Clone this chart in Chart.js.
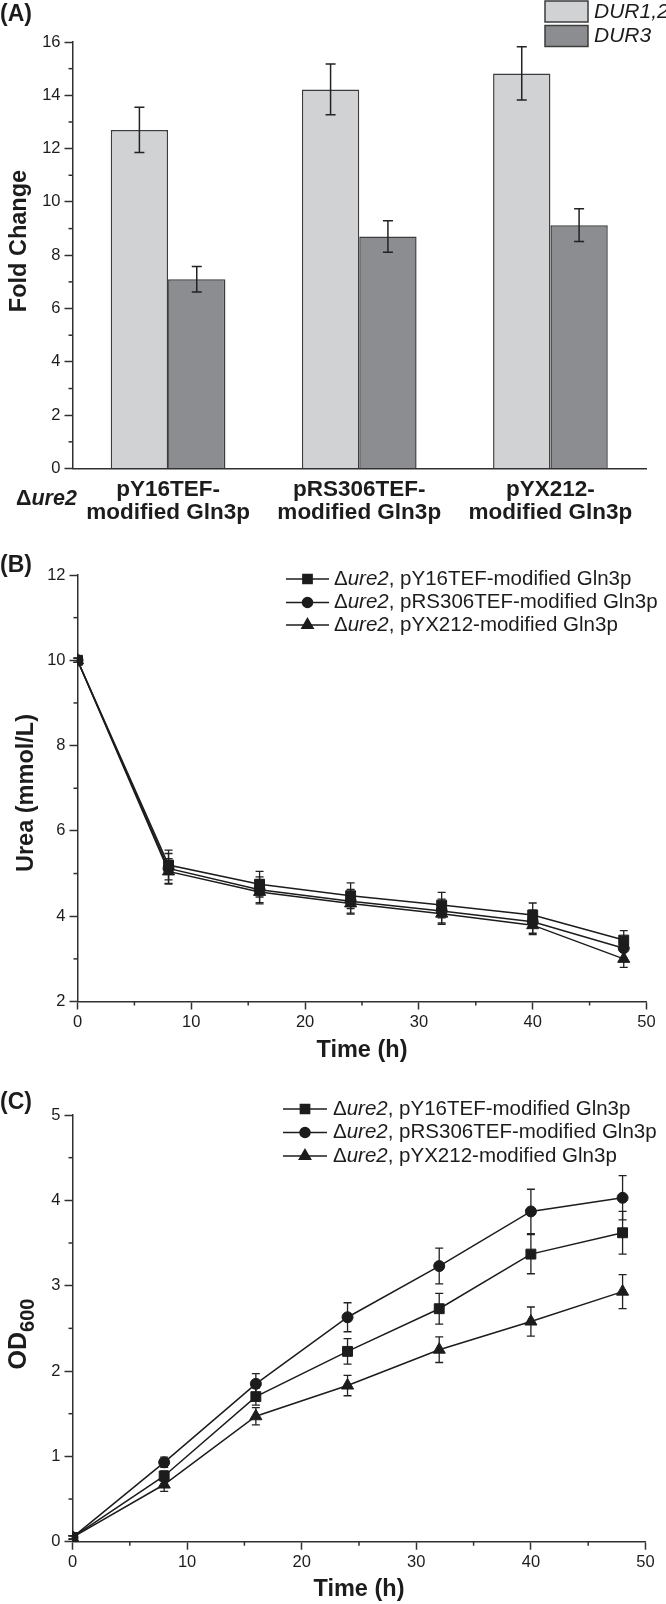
<!DOCTYPE html>
<html><head><meta charset="utf-8">
<script src="https://cdn.jsdelivr.net/npm/chart.js@4.4.1/dist/chart.umd.min.js"></script>
<style>
html,body{margin:0;padding:0;background:#fff;}
#wrap{position:relative;width:666px;height:1604px;background:#fff;overflow:hidden;}
canvas{position:absolute;left:0;}
</style></head><body>
<div id="wrap">
<canvas id="cA" width="666" height="535" style="top:0px;width:666px;height:535px"></canvas>
<canvas id="cB" width="666" height="525" style="top:545px;width:666px;height:525px"></canvas>
<canvas id="cC" width="666" height="524" style="top:1080px;width:666px;height:524px"></canvas>
</div>
<script>
// ---------- DATA ----------
// Panel A
const categories = [['pY16TEF-','modified Gln3p'],['pRS306TEF-','modified Gln3p'],['pYX212-','modified Gln3p']];
const barSeriesNames = ['DUR1,2','DUR3'];
const dur12 = [12.7, 14.22, 14.82];
const dur12Err = [0.85, 0.95, 1.0];
const dur3 = [7.1, 8.7, 9.13];
const dur3Err = [0.48, 0.59, 0.61];
const foldTicks = [0, 2, 4, 6, 8, 10, 12, 14, 16];

// Panels B and C
const timesH = [0, 8, 16, 24, 32, 40, 48];
const strainNames = ['pY16TEF-modified Gln3p','pRS306TEF-modified Gln3p','pYX212-modified Gln3p'];
const ureaY16 = [10, 5.2, 4.75, 4.48, 4.26, 4.03, 3.44];
const ureaY16Err = [0.05, 0.35, 0.3, 0.3, 0.3, 0.28, 0.22];
const ureaRS = [10, 5.12, 4.62, 4.35, 4.12, 3.87, 3.25];
const ureaRSErr = [0.05, 0.35, 0.3, 0.28, 0.28, 0.27, 0.25];
const ureaYX = [10, 5.05, 4.57, 4.3, 4.06, 3.79, 3.0];
const ureaYXErr = [0.05, 0.3, 0.28, 0.25, 0.25, 0.22, 0.2];
const ureaTicks = [2, 4, 6, 8, 10, 12];

const odY16 = [0.05, 0.77, 1.70, 2.23, 2.73, 3.37, 3.62];
const odY16Err = [0.02, 0.06, 0.1, 0.15, 0.18, 0.23, 0.25];
const odRS = [0.05, 0.93, 1.85, 2.63, 3.23, 3.87, 4.03];
const odRSErr = [0.02, 0.06, 0.12, 0.17, 0.21, 0.26, 0.26];
const odYX = [0.05, 0.67, 1.47, 1.83, 2.25, 2.58, 2.93];
const odYXErr = [0.02, 0.08, 0.1, 0.12, 0.15, 0.17, 0.2];
const odTicks = [0, 1, 2, 3, 4, 5];
const timeTicks = [0, 10, 20, 30, 40, 50];

// ---------- STYLE ----------
const FONT = "'Liberation Sans', Arial, Helvetica, sans-serif";
const INK = '#1c1c1c';
const AX = '#303030';
Chart.defaults.font.family = FONT;
Chart.defaults.color = INK;

function segs(ctx, x, y, parts, size) {
  parts.forEach(p => {
    ctx.font = (p.i ? 'italic ' : '') + (p.b ? 'bold ' : '') + size + 'px ' + FONT;
    ctx.fillText(p.t, x, y);
    x += ctx.measureText(p.t).width;
  });
  return x;
}

const errorBars = {
  id: 'errorBars',
  beforeDatasetsDraw(chart, a, o) { if (!o.front) drawErr(chart, o); },
  afterDatasetsDraw(chart, a, o) { if (o.front) drawErr(chart, o); }
};
function drawErr(chart, o) {
  const ctx = chart.ctx, ys = chart.scales.y;
  chart.data.datasets.forEach((ds, di) => {
    if (!ds.errors) return;
    const meta = chart.getDatasetMeta(di);
    meta.data.forEach((el, i) => {
      const d = ds.data[i];
      const v = (typeof d === 'object') ? d.y : d;
      const e = ds.errors[i];
      const yt = ys.getPixelForValue(v + e), yb = ys.getPixelForValue(v - e);
      ctx.save();
      ctx.strokeStyle = o.color; ctx.lineWidth = o.width;
      ctx.beginPath();
      ctx.moveTo(el.x, yt); ctx.lineTo(el.x, yb);
      ctx.moveTo(el.x - o.cap, yt); ctx.lineTo(el.x + o.cap, yt);
      ctx.moveTo(el.x - o.cap, yb); ctx.lineTo(el.x + o.cap, yb);
      ctx.stroke();
      ctx.restore();
    });
  });
}

const minorTicks = {
  id: 'minorTicks',
  afterDraw(chart, a, o) {
    const ctx = chart.ctx, ca = chart.chartArea;
    ctx.save(); ctx.strokeStyle = AX; ctx.lineWidth = 1.5;
    if (o.x) {
      const s = chart.scales.x;
      for (let v = s.min + o.x / 2; v < s.max; v += o.x) {
        const px = s.getPixelForValue(v);
        ctx.beginPath(); ctx.moveTo(px, ca.bottom); ctx.lineTo(px, ca.bottom + o.len); ctx.stroke();
      }
    }
    if (o.y) {
      const s = chart.scales.y;
      for (let v = s.min + o.y / 2; v < s.max; v += o.y) {
        const py = s.getPixelForValue(v);
        ctx.beginPath(); ctx.moveTo(ca.left, py); ctx.lineTo(ca.left - o.len, py); ctx.stroke();
      }
    }
    ctx.restore();
  }
};

const annot = {
  id: 'annot',
  afterDraw(chart, a, o) { if (o.draw) o.draw(chart, chart.ctx); }
};

function yTitle(ctx, text, x, y, size) {
  ctx.save();
  ctx.translate(x, y); ctx.rotate(-Math.PI / 2);
  ctx.fillStyle = INK; ctx.textAlign = 'center'; ctx.textBaseline = 'middle';
  ctx.font = 'bold ' + size + 'px ' + FONT;
  ctx.fillText(text, 0, 0);
  ctx.restore();
}
function panelLetter(ctx, t, y) {
  ctx.save(); ctx.fillStyle = INK; ctx.font = 'bold 23px ' + FONT;
  ctx.textAlign = 'left'; ctx.textBaseline = 'middle';
  ctx.fillText(t, 0, y); ctx.restore();
}

const markerStyles = ['rect', 'circle', 'triangle'];
const markerRadius = [7, 5.5, 7];

function lineLegend(ctx, rows, x1, x2, tx) {
  ctx.save();
  strainNames.forEach((name, i) => {
    const y = rows[i];
    ctx.strokeStyle = INK; ctx.lineWidth = 1.5;
    ctx.beginPath(); ctx.moveTo(x1, y); ctx.lineTo(x2, y); ctx.stroke();
    ctx.fillStyle = INK;
    Chart.helpers.drawPoint(ctx, {pointStyle: markerStyles[i], radius: markerRadius[i] - 0.5, rotation: 0, borderWidth: 1}, (x1 + x2) / 2, y);
    ctx.fillStyle = INK; ctx.textAlign = 'left'; ctx.textBaseline = 'middle';
    segs(ctx, tx, y, [{t: '\u0394'}, {t: 'ure2', i: true}, {t: ', ' + name}], 20.5);
  });
  ctx.restore();
}

function lineDatasets(series, errs) {
  return series.map((vals, i) => ({
    label: strainNames[i],
    data: timesH.map((t, k) => ({x: t, y: vals[k]})),
    errors: errs[i],
    borderColor: INK, backgroundColor: INK, borderWidth: 1.5,
    pointStyle: markerStyles[i], pointRadius: markerRadius[i],
    pointBackgroundColor: INK, pointBorderColor: INK, pointBorderWidth: 1,
    tension: 0, fill: false
  }));
}

function lineScales(yMin, yMax, yTicks, leftW, xH) {
  return {
    x: {
      type: 'linear', min: 0, max: 50,
      afterBuildTicks(s) { s.ticks = timeTicks.map(v => ({value: v})); },
      ticks: {font: {size: 16.5}, color: INK, padding: 3},
      grid: {drawOnChartArea: false, drawTicks: true, tickLength: 8, color: AX, tickColor: AX, tickWidth: 1.5},
      border: {color: AX, width: 1.5},
      afterFit(s) { s.height = xH; }
    },
    y: {
      type: 'linear', min: yMin, max: yMax,
      afterBuildTicks(s) { s.ticks = yTicks.map(v => ({value: v})); },
      ticks: {font: {size: 16.5}, color: INK, padding: 4},
      grid: {drawOnChartArea: false, drawTicks: true, tickLength: 8, color: AX, tickColor: AX, tickWidth: 1.5},
      border: {color: AX, width: 1.5},
      afterFit(s) { s.width = leftW; }
    }
  };
}

// ---------- PANEL A ----------
new Chart(document.getElementById('cA'), {
  type: 'bar',
  data: {
    labels: categories,
    datasets: [
      {label: barSeriesNames[0], data: dur12, errors: dur12Err, backgroundColor: '#d1d2d4', borderColor: '#3c3c3c', borderWidth: 1.5, categoryPercentage: 0.6, barPercentage: 1.0},
      {label: barSeriesNames[1], data: dur3, errors: dur3Err, backgroundColor: '#8c8d90', borderColor: '#3c3c3c', borderWidth: 1.5, categoryPercentage: 0.6, barPercentage: 1.0}
    ]
  },
  options: {
    responsive: false, animation: false, devicePixelRatio: 1,
    layout: {padding: {left: 0, right: 20, top: 42, bottom: 0}},
    plugins: {
      legend: {display: false}, tooltip: {enabled: false},
      errorBars: {front: true, cap: 5, width: 1.5, color: '#222'},
      minorTicks: {y: 2, len: 4},
      annot: {draw(chart, ctx) {
        panelLetter(ctx, '(A)', 15);
        yTitle(ctx, 'Fold Change', 19.5, 241, 23.5);
        ctx.save();
        ctx.fillStyle = INK; ctx.textAlign = 'left'; ctx.textBaseline = 'middle';
        segs(ctx, 16, 499, [{t: '\u0394', b: true}, {t: 'ure2', b: true, i: true}], 21.5);
        // legend boxes
        const cols = ['#d1d2d4', '#8c8d90'];
        barSeriesNames.forEach((n, i) => {
          const y = 1 + i * 24.5;
          ctx.fillStyle = cols[i]; ctx.fillRect(545, y, 43, 21);
          ctx.strokeStyle = '#3c3c3c'; ctx.lineWidth = 1.5; ctx.strokeRect(545, y, 43, 21);
          ctx.fillStyle = INK;
          segs(ctx, 594, y + 11, [{t: n, i: true}], 21);
        });
        ctx.restore();
      }}
    },
    scales: {
      x: {
        type: 'category',
        grid: {display: false, drawTicks: false},
        border: {display: true, color: AX, width: 1.5},
        ticks: {font: {size: 22.5, weight: 'bold', lineHeight: 1.02}, color: INK, padding: 10, maxRotation: 0, autoSkip: false},
        afterFit(s) { s.height = 66.5; }
      },
      y: {
        min: 0, max: 16,
        afterBuildTicks(s) { s.ticks = foldTicks.map(v => ({value: v})); },
        ticks: {font: {size: 16.5}, color: INK, padding: 4},
        grid: {drawOnChartArea: false, drawTicks: true, tickLength: 8, color: AX, tickColor: AX, tickWidth: 1.5},
        border: {color: AX, width: 1.5},
        afterFit(s) { s.width = 72.5; }
      }
    }
  },
  plugins: [errorBars, minorTicks, annot]
});

// ---------- PANEL B ----------
new Chart(document.getElementById('cB'), {
  type: 'line',
  data: {datasets: lineDatasets([ureaY16, ureaRS, ureaYX], [ureaY16Err, ureaRSErr, ureaYXErr])},
  options: {
    responsive: false, animation: false, devicePixelRatio: 1,
    layout: {padding: {left: 0, right: 19.5, top: 30, bottom: 0}},
    plugins: {
      legend: {display: false}, tooltip: {enabled: false},
      errorBars: {front: false, cap: 4, width: 1.3, color: '#222'},
      minorTicks: {x: 10, y: 2, len: 4},
      annot: {draw(chart, ctx) {
        panelLetter(ctx, '(B)', 21);
        const ca = chart.chartArea;
        yTitle(ctx, 'Urea (mmol/L)', 27, 248, 23.5);
        ctx.save(); ctx.fillStyle = INK; ctx.textAlign = 'center'; ctx.textBaseline = 'middle';
        ctx.font = 'bold 23.5px ' + FONT;
        ctx.fillText('Time (h)', (ca.left + ca.right) / 2, 506);
        ctx.restore();
        lineLegend(ctx, [34, 57.5, 80], 286, 329, 334);
      }}
    },
    scales: lineScales(2, 12, ureaTicks, 77.5, 68.5)
  },
  plugins: [errorBars, minorTicks, annot]
});

// ---------- PANEL C ----------
new Chart(document.getElementById('cC'), {
  type: 'line',
  data: {datasets: lineDatasets([odY16, odRS, odYX], [odY16Err, odRSErr, odYXErr])},
  options: {
    responsive: false, animation: false, devicePixelRatio: 1,
    layout: {padding: {left: 0, right: 20.5, top: 35, bottom: 0}},
    plugins: {
      legend: {display: false}, tooltip: {enabled: false},
      errorBars: {front: false, cap: 4, width: 1.3, color: '#222'},
      minorTicks: {x: 10, y: 1, len: 4},
      annot: {draw(chart, ctx) {
        panelLetter(ctx, '(C)', 23);
        const ca = chart.chartArea;
        // OD600 with subscript
        ctx.save();
        ctx.translate(17, 254); ctx.rotate(-Math.PI / 2);
        ctx.fillStyle = INK; ctx.textBaseline = 'alphabetic'; ctx.textAlign = 'left';
        ctx.font = 'bold 25px ' + FONT;
        const w1 = ctx.measureText('OD').width;
        ctx.font = 'bold 20px ' + FONT;
        const w2 = ctx.measureText('600').width;
        const x0 = -(w1 + w2) / 2;
        ctx.font = 'bold 25px ' + FONT;
        ctx.fillText('OD', x0, 9);
        ctx.font = 'bold 20px ' + FONT;
        ctx.fillText('600', x0 + w1, 17);
        ctx.restore();
        ctx.save(); ctx.fillStyle = INK; ctx.textAlign = 'center'; ctx.textBaseline = 'middle';
        ctx.font = 'bold 23.5px ' + FONT;
        ctx.fillText('Time (h)', (ca.left + ca.right) / 2, 510);
        ctx.restore();
        lineLegend(ctx, [29, 52.5, 76], 283, 327, 333);
      }}
    },
    scales: lineScales(0, 5, odTicks, 72.5, 62.3)
  },
  plugins: [errorBars, minorTicks, annot]
});
</script>
</body></html>
